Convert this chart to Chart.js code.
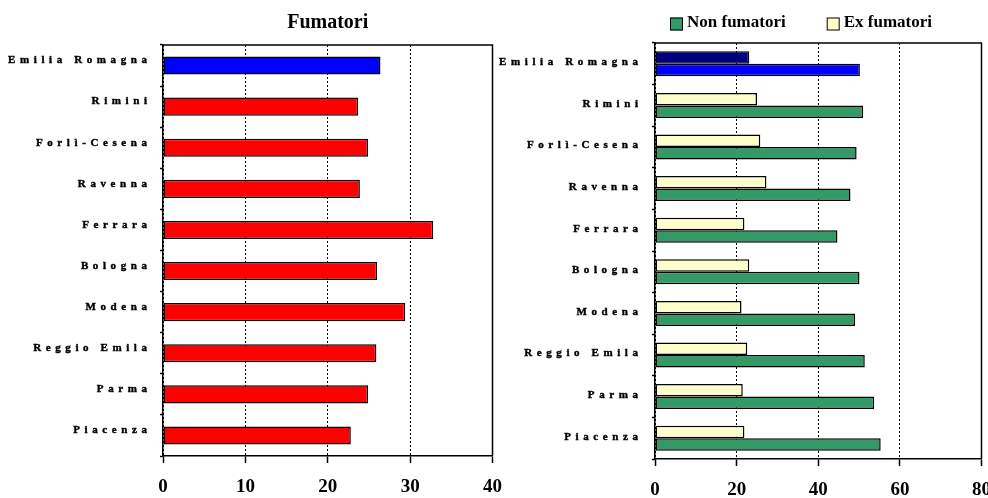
<!DOCTYPE html>
<html>
<head>
<meta charset="utf-8">
<script src="https://cdn.jsdelivr.net/npm/chart.js@4.4.0/dist/chart.umd.min.js"></script>
<style>
  html, body { margin: 0; padding: 0; background: #fff; }
  #wrap { position: relative; width: 988px; height: 498px; overflow: hidden; }
  canvas { position: absolute; top: 0; }
  #chartFum { left: 0; }
  #chartNon { left: 490px; }
</style>
</head>
<body>
<div id="wrap">
  <canvas id="chartFum" width="515" height="498"></canvas>
  <canvas id="chartNon" width="514" height="498"></canvas>
</div>
<script>
var categories = ['Emilia Romagna', 'Rimini', 'Forlì-Cesena', 'Ravenna', 'Ferrara',
    'Bologna', 'Modena', 'Reggio Emila', 'Parma', 'Piacenza'];
var fumatori = [26.4, 23.7, 24.9, 23.9, 32.8, 26.0, 29.4, 25.9, 24.9, 22.8];
var nonFumatori = [50.2, 51.0, 49.4, 47.9, 44.7, 50.1, 49.0, 51.4, 53.7, 55.3];
var exFumatori = [23.1, 25.0, 25.8, 27.3, 21.9, 23.1, 21.2, 22.6, 21.5, 21.9];
var ticksFum = [0, 10, 20, 30, 40];
var ticksNon = [0, 20, 40, 60, 80];

var serif = '"Liberation Serif", "Times New Roman", serif';
Chart.defaults.font.family = serif;
Chart.defaults.color = '#000';

// first row (regional total) gets its own colour
var byRow = function (first, rest) {
    return categories.map(function (c, i) { return i === 0 ? first : rest; });
};

// y labels drawn letter by letter, spaced out like the original
var spacedLabels = {
    id: 'spacedLabels',
    afterDraw: function (chart, args, opts) {
        var ctx = chart.ctx;
        var scale = chart.scales.y;
        ctx.save();
        ctx.font = 'bold 11px ' + serif;
        ctx.fillStyle = '#000';
        ctx.strokeStyle = '#000';
        ctx.lineWidth = 0.4;
        ctx.textBaseline = 'middle';
        ctx.textAlign = 'left';
        chart.data.labels.forEach(function (label, i) {
            var y = scale.getPixelForTick(i) + opts.offsetY;
            var chars = Array.from(label);
            var widths = chars.map(function (c) { return ctx.measureText(c).width; });
            var total = widths.reduce(function (a, b) { return a + b; }, 0) + opts.spacing * (chars.length - 1);
            var x = chart.chartArea.left - opts.gap - total;
            chars.forEach(function (c, k) {
                ctx.fillText(c, x, y);
                ctx.strokeText(c, x, y);
                x += widths[k] + opts.spacing;
            });
        });
        ctx.restore();
    }
};

// top and right side of the plot box
var frame = {
    id: 'frame',
    afterDatasetsDraw: function (chart) {
        var a = chart.chartArea, ctx = chart.ctx;
        ctx.save();
        ctx.strokeStyle = '#000';
        ctx.lineWidth = 1.5;
        ctx.beginPath();
        ctx.moveTo(a.left, a.top);
        ctx.lineTo(a.right, a.top);
        ctx.lineTo(a.right, a.bottom);
        ctx.stroke();
        ctx.restore();
    }
};

var boxLegend = {
    id: 'boxLegend',
    afterDraw: function (chart, args, opts) {
        if (!opts.order) return;
        var ctx = chart.ctx;
        var x = chart.chartArea.left + opts.startX;
        ctx.save();
        ctx.font = 'bold 17px ' + serif;
        ctx.textBaseline = 'middle';
        ctx.textAlign = 'left';
        opts.order.forEach(function (di) {
            var ds = chart.data.datasets[di];
            ctx.fillStyle = ds.backgroundColor[1];
            ctx.fillRect(x, opts.y - 6.5, 13, 13);
            ctx.strokeStyle = '#000';
            ctx.lineWidth = 1;
            ctx.strokeRect(x + 0.5, opts.y - 6, 12, 12);
            ctx.fillStyle = '#000';
            ctx.fillText(ds.label, x + 17, opts.y - 1);
            x += 17 + ctx.measureText(ds.label).width + 41;
        });
        ctx.restore();
    }
};

var makeScales = function (tickList, xHeight, yWidth) {
    return {
        x: {
            min: tickList[0],
            max: tickList[tickList.length - 1],
            afterBuildTicks: function (s) {
                s.ticks = tickList.map(function (v) { return { value: v }; });
            },
            ticks: { color: '#000', font: { size: 19, weight: 'bold' }, padding: 13, maxRotation: 0 },
            grid: { color: '#000', lineWidth: 1, tickLength: 7, tickColor: '#000', tickWidth: 1.5 },
            border: { display: true, color: '#000', width: 1.5, dash: [2, 2] },
            afterFit: function (s) { s.height = xHeight; }
        },
        y: {
            ticks: { display: false },
            grid: { drawOnChartArea: false, offset: true, tickLength: 3, color: '#000', tickColor: '#000', tickWidth: 1.5 },
            border: { color: '#000', width: 1.5 },
            afterFit: function (s) { s.width = yWidth; }
        }
    };
};

new Chart(document.getElementById('chartFum'), {
    type: 'bar',
    data: {
        labels: categories,
        datasets: [{
            label: 'Fumatori',
            data: fumatori,
            backgroundColor: byRow('#0000FF', '#FF0000'),
            borderColor: '#000',
            borderWidth: 1.5,
            borderSkipped: false,
            categoryPercentage: 0.44,
            barPercentage: 1
        }]
    },
    options: {
        indexAxis: 'y',
        responsive: false,
        animation: false,
        layout: { padding: { left: 0, right: 7, top: 0, bottom: 0 } },
        scales: makeScales(ticksFum, 42, 163),
        plugins: {
            legend: { display: false },
            tooltip: { enabled: false },
            title: {
                display: true,
                text: 'Fumatori',
                fullSize: false,
                color: '#000',
                font: { size: 20, weight: 'bold' },
                padding: { top: 11, bottom: 10 }
            },
            spacedLabels: { spacing: 4.6, gap: 16, offsetY: -5 }
        }
    },
    plugins: [spacedLabels, frame]
});

new Chart(document.getElementById('chartNon'), {
    type: 'bar',
    data: {
        labels: categories,
        datasets: [{
            label: 'Ex fumatori',
            data: exFumatori,
            backgroundColor: byRow('#000080', '#FFFFCC'),
            borderColor: '#000',
            borderWidth: 1.5,
            borderSkipped: false,
            categoryPercentage: 0.6,
            barPercentage: 1
        }, {
            label: 'Non fumatori',
            data: nonFumatori,
            backgroundColor: byRow('#0000FF', '#339966'),
            borderColor: '#000',
            borderWidth: 1.5,
            borderSkipped: false,
            categoryPercentage: 0.6,
            barPercentage: 1
        }]
    },
    options: {
        indexAxis: 'y',
        responsive: false,
        animation: false,
        layout: { padding: { left: 0, right: 7, top: 43, bottom: 0 } },
        scales: makeScales(ticksNon, 39, 165),
        plugins: {
            legend: { display: false },
            tooltip: { enabled: false },
            spacedLabels: { spacing: 4.6, gap: 17, offsetY: -1.5 },
            boxLegend: { order: [1, 0], startX: 15, y: 24 }
        }
    },
    plugins: [spacedLabels, frame, boxLegend]
});
</script>
</body>
</html>
